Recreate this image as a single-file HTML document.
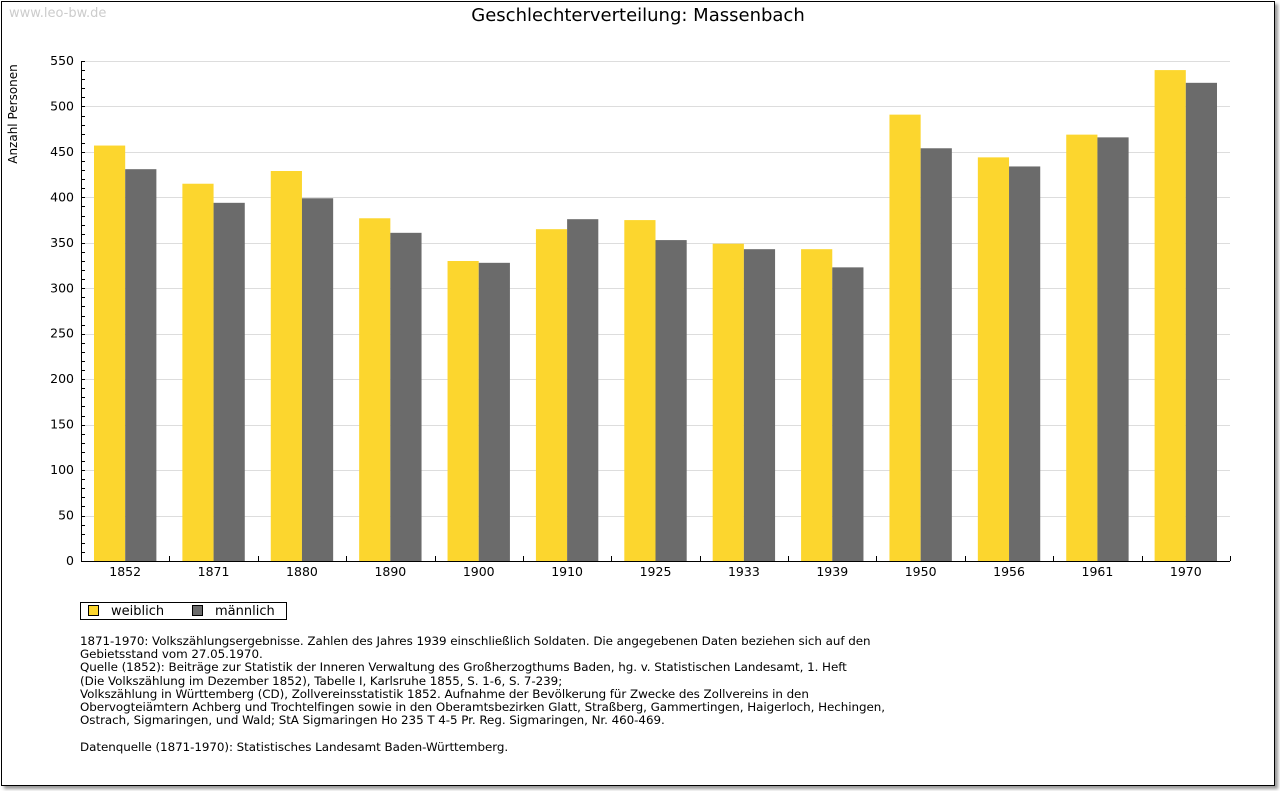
<!DOCTYPE html>
<html><head><meta charset="utf-8"><style>
body{margin:0;background:#fff;font-family:"DejaVu Sans","Liberation Sans",sans-serif;}
#wrap{position:absolute;left:0;top:0;width:1280px;height:791px;}
.frame{position:absolute;left:1px;top:1px;width:1272px;height:783px;border:1px solid #000;box-shadow:3px 3px 3px #999;background:#fff;}
.note{position:absolute;left:80px;top:635px;font-size:11.9px;letter-spacing:-0.05px;line-height:13.2px;color:#000;white-space:pre;}
</style></head><body>
<div id="wrap">
<div class="frame"></div>
<svg id="chart" width="1280" height="791" style="position:absolute;left:0;top:0">
<text x="9" y="17" font-size="13" fill="#ccc">www.leo-bw.de</text>
<text x="638" y="21" font-size="18" text-anchor="middle" fill="#000">Geschlechterverteilung: Massenbach</text>
<text transform="translate(17,114) rotate(-90)" font-size="12" text-anchor="middle">Anzahl Personen</text>
<g id="grid"></g><g id="bars"></g><g id="axes"></g>
<g>
<rect x="80.5" y="602.5" width="206" height="17" fill="#fff" stroke="#000"/>
<rect x="88.5" y="605.5" width="10" height="10" fill="#fcd62e" stroke="#000"/>
<text x="111" y="615" font-size="13">weiblich</text>
<rect x="192.5" y="605.5" width="10" height="10" fill="#6b6b6b" stroke="#000"/>
<text x="215" y="615" font-size="13">männlich</text>
</g>
</svg>
<div class="note">1871-1970: Volkszählungsergebnisse. Zahlen des Jahres 1939 einschließlich Soldaten. Die angegebenen Daten beziehen sich auf den
Gebietsstand vom 27.05.1970.
Quelle (1852): Beiträge zur Statistik der Inneren Verwaltung des Großherzogthums Baden, hg. v. Statistischen Landesamt, 1. Heft
(Die Volkszählung im Dezember 1852), Tabelle I, Karlsruhe 1855, S. 1-6, S. 7-239;
Volkszählung in Württemberg (CD), Zollvereinsstatistik 1852. Aufnahme der Bevölkerung für Zwecke des Zollvereins in den
Obervogteiämtern Achberg und Trochtelfingen sowie in den Oberamtsbezirken Glatt, Straßberg, Gammertingen, Haigerloch, Hechingen,
Ostrach, Sigmaringen, und Wald; StA Sigmaringen Ho 235 T 4-5 Pr. Reg. Sigmaringen, Nr. 460-469.

Datenquelle (1871-1970): Statistisches Landesamt Baden-Württemberg.</div>
</div>
<script>
const categories=["1852","1871","1880","1890","1900","1910","1925","1933","1939","1950","1956","1961","1970"];
const weiblich=[457,415,429,377,330,365,375,349,343,491,444,469,540];
const maennlich=[431,394,399,361,328,376,353,343,323,454,434,466,526];
const yTicks=[0,50,100,150,200,250,300,350,400,450,500,550];
const NS="http://www.w3.org/2000/svg";
const X0=81,X1=1230,Y0=561,Y1=61,YMAX=550;
const bw=(X1-X0)/categories.length;
function y(v){return Y0-(v/YMAX)*(Y0-Y1);}
function xc(i){return X0+bw*i;}
function mk(tag,attrs,parent){const e=document.createElementNS(NS,tag);for(const k in attrs)e.setAttribute(k,attrs[k]);document.getElementById(parent).appendChild(e);return e;}
yTicks.forEach(t=>{
  if(t>0){const g=mk('line',{x1:X0,x2:X1,y1:Math.round(y(t))+0.5,y2:Math.round(y(t))+0.5,stroke:'#ddd'},'grid');
  
  }
  const l=mk('text',{x:X0-7,y:y(t)+4,'font-size':12.5,'text-anchor':'end'},'axes');l.textContent=t;
  
  
});
for(let v=0;v<=YMAX;v+=10){mk('line',{x1:X0,x2:X0+4,y1:Math.round(y(v))+0.5,y2:Math.round(y(v))+0.5,stroke:'#000'},'axes');}
categories.forEach((c,i)=>{
  const bx=xc(i)+13,w=(bw-26)/2;
  const a=mk('rect',{x:bx,y:y(weiblich[i]),width:w,height:Y0-y(weiblich[i]),fill:'#fcd62e'},'bars');
  
  
  const b=mk('rect',{x:bx+w,y:y(maennlich[i]),width:w,height:Y0-y(maennlich[i]),fill:'#6b6b6b'},'bars');
  
  
  const t=mk('text',{x:xc(i)+bw/2,y:Y0+15,'font-size':12.5,'text-anchor':'middle'},'axes');t.textContent=c;
  
  
  if(i>0)mk('line',{x1:Math.round(xc(i))+0.5,x2:Math.round(xc(i))+0.5,y1:Y0,y2:Y0-5,stroke:'#000'},'axes');
});
mk('line',{x1:X0+0.5,x2:X0+0.5,y1:Y1,y2:Y0,stroke:'#000'},'axes');
mk('line',{x1:X0,x2:X1,y1:Y0+0.5,y2:Y0+0.5,stroke:'#000'},'axes');
mk('line',{x1:X1+0.5,x2:X1+0.5,y1:Y0,y2:Y0-5,stroke:'#000'},'axes');
</script>
</body></html>
